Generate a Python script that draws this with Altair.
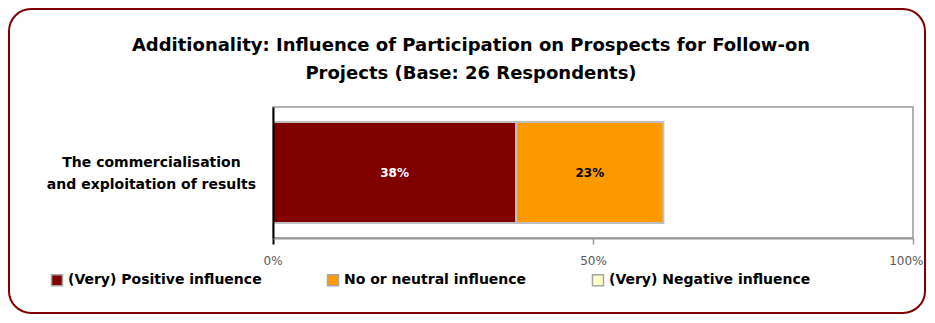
import altair as alt
import pandas as pd

title_lines = [
    "Additionality: Influence of Participation on Prospects for Follow-on",
    "Projects (Base: 26 Respondents)",
]
items = ["The commercialisation\nand exploitation of results"]
categories = ["(Very) Positive influence", "No or neutral influence", "(Very) Negative influence"]
values = [38, 23, 0]
colors = ["#800000", "#FF9900", "#FFFFCC"]
x_ticks = [0, 50, 100]

df = pd.DataFrame({
    "item": items * len(categories),
    "category": categories,
    "value": values,
    "order": list(range(len(categories))),
})

y_enc = alt.Y(
    "item:N",
    title=None,
    scale=alt.Scale(paddingInner=0, paddingOuter=0.149),
    axis=alt.Axis(
        labelExpr="split(datum.label, '\\n')",
        labelAlign="center",
        labelBaseline="middle",
        labelPadding=122,
        labelOffset=-10,
        tickSize=0,
        ticks=False,
        labelFont="DejaVu Sans",
        labelFontSize=14,
        labelFontWeight="bold",
        labelColor="#000000",
        labelLineHeight=22,
        labelLimit=400,
        domainColor="#000000",
        domainWidth=2,
        zindex=1,
    ),
)

x_axis = alt.Axis(
    values=x_ticks,
    labelExpr="datum.value + '%'",
    grid=False,
    tickSize=6,
    tickColor={"condition": {"test": "datum.value === 0", "value": "#000000"}, "value": "#999999"},
    tickWidth={"condition": {"test": "datum.value === 0", "value": 2}, "value": 1.5},
    domainColor="#999999",
    domainWidth=2,
    labelFont="DejaVu Sans",
    labelFontSize=12,
    labelColor="#595959",
    labelPadding=11,
    labelFlush=True,
    labelFlushOffset=10,
)

base = alt.Chart(df).transform_filter(alt.datum.value > 0)

bars = base.mark_bar(stroke="#BFBFBF", strokeWidth=2).encode(
    x=alt.X("value:Q", stack="zero", title=None,
            scale=alt.Scale(domain=[0, 100], nice=False), axis=x_axis),
    y=y_enc,
    color=alt.Color(
        "category:N",
        scale=alt.Scale(domain=categories, range=colors),
        legend=alt.Legend(
            title=None,
            orient="none",
            direction="horizontal",
            columns=3,
            legendX=-223,
            legendY=166,
            padding=0,
            symbolType="square",
            symbolSize=121,
            symbolStrokeColor="#A6A6A6",
            symbolStrokeWidth=1.5,
            symbolOpacity=1,
            labelFont="DejaVu Sans",
            labelFontSize=14,
            labelFontWeight="bold",
            labelColor="#000000",
            labelOffset=4,
            columnPadding=62,
            labelLimit=400,
        ),
    ),
    order=alt.Order("order:Q"),
)

text = base.transform_window(
    cum="sum(value)", sort=[alt.SortField("order")]
).transform_calculate(
    mid="datum.cum - datum.value / 2",
    label="datum.value + '%'",
).mark_text(font="DejaVu Sans", fontSize=12, fontWeight="bold").encode(
    x=alt.X("mid:Q", title=None),
    y=alt.Y("item:N", title=None),
    text="label:N",
    color=alt.condition(alt.datum.order == 0, alt.value("white"), alt.value("black")),
)

border = alt.Chart(pd.DataFrame({"a": [0]})).mark_rect(
    filled=False, stroke="#800000", strokeWidth=2, cornerRadius=22
).encode(
    x=alt.value(-264), x2=alt.value(652), y=alt.value(-98), y2=alt.value(206)
)

chart = alt.layer(border, bars, text).properties(
    width=640,
    height=131,
    autosize=alt.AutoSizeParams(type="none"),
    padding={"left": 265, "top": 99, "right": 14, "bottom": 77},
    title=alt.TitleParams(
        text=title_lines,
        font="DejaVu Sans",
        fontSize=18,
        fontWeight="bold",
        color="#000000",
        anchor="middle",
        frame="group",
        dx=-122,
        offset=-75,
        lineHeight=28,
    ),
).configure_view(stroke="#999999", strokeWidth=1.5)

chart.save("out.html", embed_options={"renderer": "svg", "actions": False})
